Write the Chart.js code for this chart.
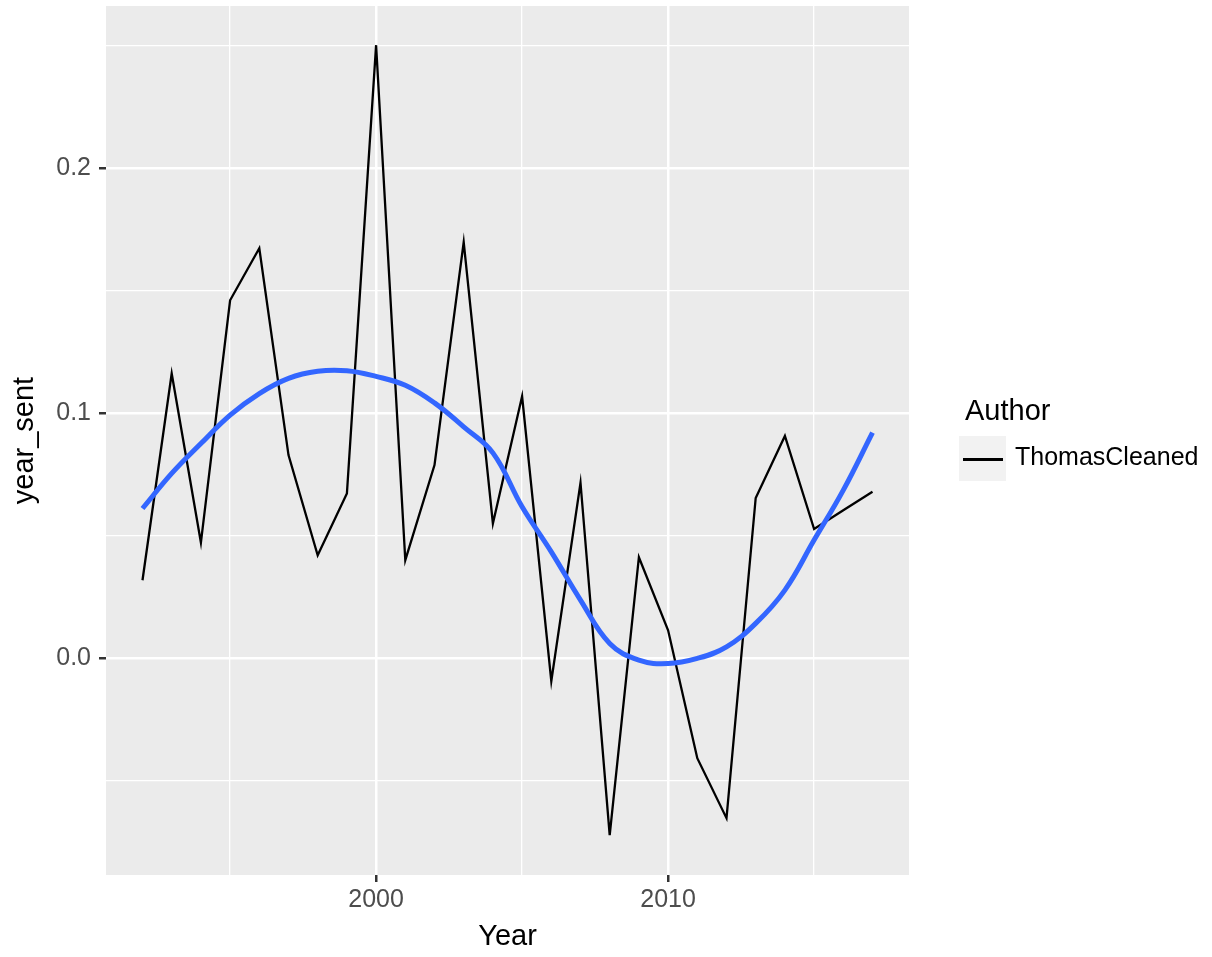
<!DOCTYPE html>
<html>
<head>
<meta charset="utf-8">
<script src="https://cdn.jsdelivr.net/npm/chart.js@4.4.0/dist/chart.umd.min.js"></script>
<style>
    body { margin: 0; background: #ffffff; }
    #wrap { position: relative; width: 1212px; height: 957px; font-family: "Liberation Sans", Arial, sans-serif; }
    #legendTitle { position: absolute; left: 965px; top: 394px; font-size: 29px; line-height: normal; color: #000; }
    #legendKey { position: absolute; left: 959px; top: 436px; width: 47px; height: 45px; background: #F2F2F2; }
    #legendKey div { position: absolute; left: 4px; top: 22px; width: 40px; height: 2.5px; background: #000; }
    #legendLabel { position: absolute; left: 1015px; top: 442px; font-size: 25px; line-height: normal; color: #000; }
</style>
</head>
<body>
<div id="wrap">
    <canvas id="sentChart" width="1212" height="957"></canvas>
    <div id="legendTitle">Author</div>
    <div id="legendKey"><div></div></div>
    <div id="legendLabel">ThomasCleaned</div>
</div>
<script>
// Data
const years = [1992, 1993, 1994, 1995, 1996, 1997, 1998, 1999, 2000, 2001, 2002, 2003, 2004,
               2005, 2006, 2007, 2008, 2009, 2010, 2011, 2012, 2013, 2014, 2015, 2016, 2017];
const yearSent = [0.0318, 0.1162, 0.0472, 0.1461, 0.1673, 0.0829, 0.0420, 0.0672, 0.2502, 0.0400, 0.0788, 0.1698, 0.0550,
                  0.1069, -0.0094, 0.0716, -0.0722, 0.0412, 0.0114, -0.0408, -0.0653, 0.0654, 0.0907, 0.0527, 0.0604, 0.0679];
const smoothSent = [0.0611, 0.0754, 0.0876, 0.0992, 0.1080, 0.1142, 0.1171, 0.1173, 0.1150, 0.1114, 0.1042, 0.0944, 0.0838,
                    0.0618, 0.0434, 0.0237, 0.0060, -0.0008, -0.0022, -0.0001, 0.0046, 0.0142, 0.0278, 0.0482, 0.0686, 0.0921];
const xTickLabels = [2000, 2010];
const yTickLabels = [0.0, 0.1, 0.2];

const FONT = '"Liberation Sans", Arial, sans-serif';

// ggplot-style grey panel
const panelBg = {
    id: 'panelBg',
    beforeDraw(chart) {
        const { ctx, chartArea: a } = chart;
        ctx.save();
        ctx.fillStyle = '#EBEBEB';
        ctx.fillRect(a.left, a.top, a.right - a.left, a.bottom - a.top);
        ctx.restore();
    }
};

const isXMajor = v => xTickLabels.includes(Math.round(v));
const isYMajor = v => yTickLabels.some(t => Math.abs(t - v) < 1e-6);

new Chart(document.getElementById('sentChart'), {
    type: 'line',
    data: {
        datasets: [
            {
                label: 'smooth',
                data: years.map((y, i) => ({ x: y, y: smoothSent[i] })),
                borderColor: '#3366FF',
                borderWidth: 5,
                pointRadius: 0,
                tension: 0.4,
                order: 0
            },
            {
                label: 'ThomasCleaned',
                data: years.map((y, i) => ({ x: y, y: yearSent[i] })),
                borderColor: '#000000',
                borderWidth: 2.3,
                pointRadius: 0,
                tension: 0,
                order: 1
            }
        ]
    },
    options: {
        responsive: false,
        animation: false,
        layout: { padding: { top: 6, right: 303, bottom: 0, left: 0 } },
        plugins: {
            legend: { display: false },
            tooltip: { enabled: false }
        },
        scales: {
            x: {
                type: 'linear',
                min: 1990.75,
                max: 2018.25,
                afterFit: s => { s.height = 82; s.paddingLeft = 0; s.paddingRight = 0; },
                border: { display: false },
                grid: {
                    color: '#FFFFFF',
                    lineWidth: c => isXMajor(c.tick.value) ? 2.5 : 1.3,
                    tickLength: 7,
                    tickWidth: 2.5,
                    tickColor: c => isXMajor(c.tick.value) ? '#333333' : 'rgba(0,0,0,0)'
                },
                ticks: {
                    stepSize: 5,
                    includeBounds: false,
                    autoSkip: false,
                    maxRotation: 0,
                    padding: 3,
                    color: '#4D4D4D',
                    font: { family: FONT, size: 25 },
                    callback: v => isXMajor(v) ? String(Math.round(v)) : ''
                },
                title: {
                    display: true,
                    text: 'Year',
                    color: '#000000',
                    font: { family: FONT, size: 29 },
                    padding: { top: 0, bottom: 3 }
                }
            },
            y: {
                type: 'linear',
                min: -0.0885,
                max: 0.2662,
                afterFit: s => { s.width = 106; s.paddingTop = 0; s.paddingBottom = 0; },
                border: { display: false },
                grid: {
                    color: '#FFFFFF',
                    lineWidth: c => isYMajor(c.tick.value) ? 2.5 : 1.3,
                    tickLength: 7,
                    tickWidth: 2.5,
                    tickColor: c => isYMajor(c.tick.value) ? '#333333' : 'rgba(0,0,0,0)'
                },
                ticks: {
                    stepSize: 0.05,
                    includeBounds: false,
                    autoSkip: false,
                    padding: 8,
                    color: '#4D4D4D',
                    font: { family: FONT, size: 25 },
                    callback: v => isYMajor(v) ? v.toFixed(1) : ''
                },
                title: {
                    display: true,
                    text: 'year_sent',
                    color: '#000000',
                    font: { family: FONT, size: 29 },
                    padding: { top: 8, bottom: 0 }
                }
            }
        }
    },
    plugins: [panelBg]
});
</script>
</body>
</html>
